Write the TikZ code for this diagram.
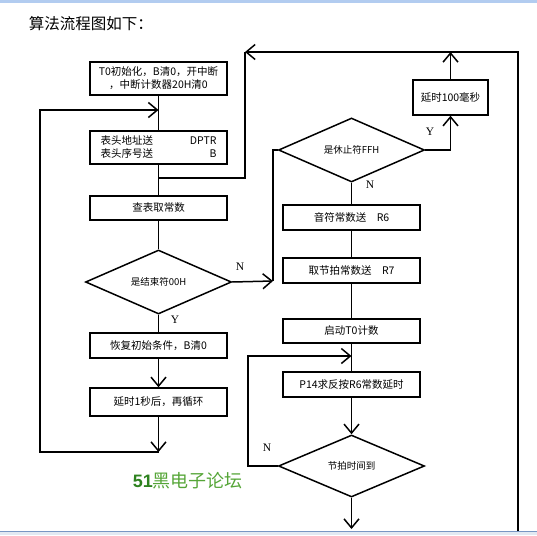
\documentclass[tikz,border=0pt]{standalone}
\usepackage{fontspec}
\setmainfont{Noto Sans CJK SC}
\newfontfamily\latinsans{Liberation Sans}
\newfontfamily\latinserif{Liberation Serif}
\usepackage{tikz}
\usetikzlibrary{positioning, shapes.geometric, arrows.meta}
\definecolor{forumgreen}{RGB}{45,130,30}
\definecolor{forumlight}{RGB}{85,165,55}
\definecolor{bandtop}{RGB}{178,204,240}
\definecolor{bandbot}{RGB}{226,233,242}
\definecolor{bandline}{RGB}{120,150,195}

\begin{document}
\begin{tikzpicture}[x=1pt, y=-1pt, line width=1.5pt,
  box/.style={draw, rectangle, minimum width=137pt, inner sep=2pt, align=center, font=\fontsize{10.5}{13}\selectfont},
  decision/.style={draw, diamond, aspect=2.3, minimum width=146pt, minimum height=64pt, inner sep=0pt, font=\fontsize{9.5}{11}\selectfont},
  flow/.style={-{Straight Barb[length=9pt, width=15pt]}},
  lab/.style={font=\latinserif\fontsize{11.5}{12}\selectfont}]
\useasboundingbox (0,0) rectangle (537,535);
\fill[bandtop] (0,0) rectangle (537,3);
\fill[bandbot] (0,531) rectangle (537,535);
\draw[bandline, line width=0.8pt] (0,531) -- (537,531);

\node[anchor=west, font=\fontsize{15.5}{17}\selectfont, inner sep=0pt] at (28,24) (title) {算法流程图如下：};

% left column
\node[box, minimum height=33pt] at (158.5,78.5) (box1) {T0初始化，B清0，开中断\\，中断计数器20H清0};
\node[box, minimum height=33pt, text width=116pt, align=left] at (158.5,147.5) (box2) {表头地址送\hfill DPTR\\表头序号送\hfill B};
\node[box, minimum height=24pt] at (158.5,208) (box3) {查表取常数};
\node[decision] at (158.5,282) (dec1) {是结束符00H};
\node[box, minimum height=25pt] at (158.5,345.5) (box4) {恢复初始条件，B清0};
\node[box, minimum height=28pt] at (158.5,402) (box5) {延时1秒后，再循环};

% right column
\node[decision] at (351.5,150) (dec2) {是休止符FFH};
\node[box, minimum width=75pt, minimum height=35pt] at (450.5,97.5) (delay2) {延时100毫秒};
\node[box, minimum height=25pt] at (351.5,217.5) (box7) {音符常数送\quad R6};
\node[box, minimum height=25pt] at (351.5,270.5) (box8) {取节拍常数送\quad R7};
\node[box, minimum height=24pt] at (351.5,331) (box9) {启动T0计数};
\node[box, minimum height=25pt] at (351.5,384.5) (box10) {P14求反按R6常数延时};
\node[decision, minimum height=62pt] at (351.5,466) (dec3) {节拍时间到};

\coordinate (back1) at (158.5,452);
\coordinate (join1) at (158.5,110);
\coordinate (tap1) at (158.5,178);
\coordinate (top1) at (245,52);
\coordinate (top2) at (450.5,52);
\coordinate (rightend) at (518,531);
\coordinate (cross1) at (273,281);
\coordinate (join2) at (351.5,356);
\coordinate (back2) at (248,466);
\coordinate (exit) at (351.5,529);

\draw (box1.south) -- (box2.north);
\draw (box2.south) -- (box3.north);
\draw (box3.south) -- (dec1.north);
\draw (dec1.south) -- (box4.north);
\draw[flow] (box4.south) -- (box5.north);
\draw[flow] (box5.south) -- (back1);
\draw[flow] (back1) -- ++(-118.5,0) |- (join1);
\draw (tap1) -| (top1);
\draw[flow] (rightend) |- (top1);
\draw[flow] (delay2.north) -- (top2);
\draw[flow] (dec1.east) -- (cross1);
\draw (cross1) |- (dec2.west);
\draw[flow] (dec2.east) -| (delay2.south);
\draw (dec2.south) -- (box7.north);
\draw (box7.south) -- (box8.north);
\draw (box8.south) -- (box9.north);
\draw (box9.south) -- (box10.north);
\draw[flow] (box10.south) -- (dec3.north);
\draw[flow] (dec3.west) -- (back2) |- (join2);
\draw[flow] (dec3.south) -- (exit);

\node[lab] at (175,320) (yes1) {Y};
\node[lab] at (240,267) (no1) {N};
\node[lab] at (430,132) (yes2) {Y};
\node[lab] at (370,185) (no2) {N};
\node[lab] at (267,448) (no3) {N};

\node[anchor=west, font=\fontsize{18}{20}\selectfont, text=forumlight, inner sep=0pt] at (132,481) (forum) {{\latinsans\bfseries\color{forumgreen}51}黑电子论坛};
\end{tikzpicture}
\end{document}
